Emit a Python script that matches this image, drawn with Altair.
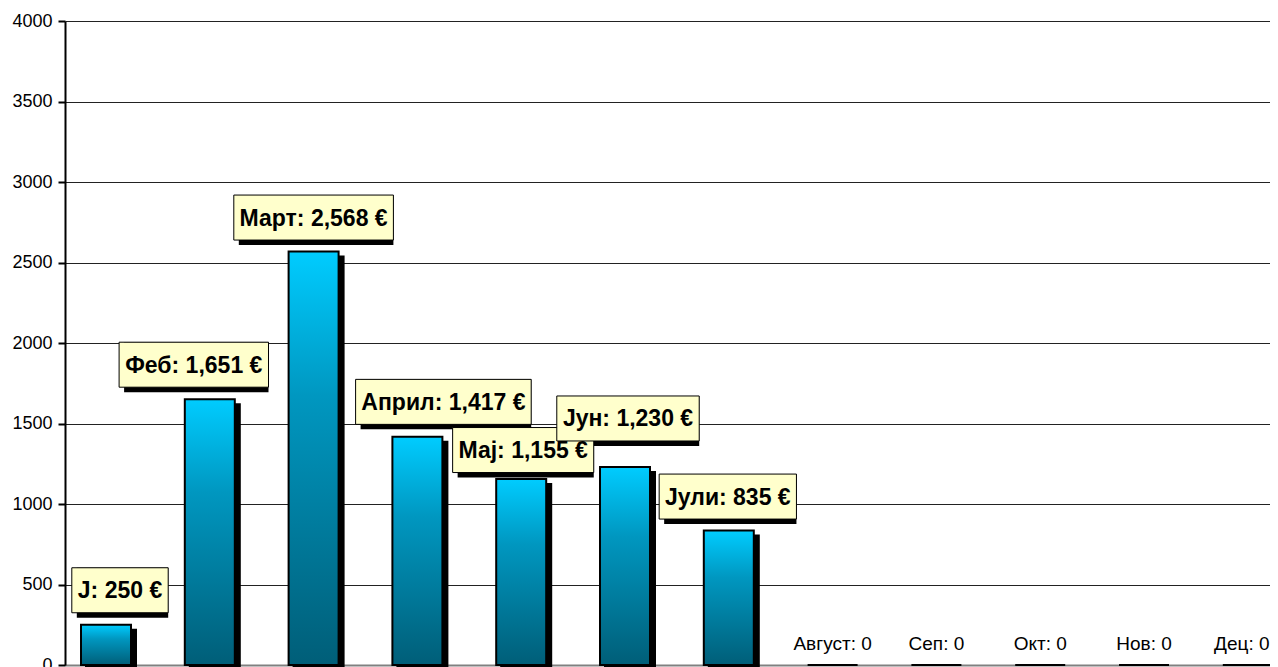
import altair as alt
import pandas as pd

# ---- data ----
months = ["J", "Феб", "Март", "Април", "Мај", "Јун", "Јули",
          "Август", "Сеп", "Окт", "Нов", "Дец"]
values = [250, 1651, 2568, 1417, 1155, 1230, 835, 0, 0, 0, 0, 0]
y_ticks = [0, 500, 1000, 1500, 2000, 2500, 3000, 3500, 4000]

# ---- layout ----
W, H = 1205, 644
PX_PER_IDX = 103.8
X0 = -0.395
X1 = X0 + W / PX_PER_IDX
Y_MAX = 4000
UNITS_PER_PX = Y_MAX / H
FONT = "Liberation Sans, Arial, sans-serif"
LABEL_SIZE = 23
BOX_H = 45
BOX_PAD = 12
# label nudges (px) where the original layout moved a label aside
label_dx_px = [14, -16, 0, 26, 2, 3, -1]
label_lift_px = [34.5, 34.5, 34, 35, 29, 48.5, 34]
zero_dx_px = [0, 0, 0, 0, -6]

# approximate Arial Bold advance widths (em/1000)
CW = {" ": 278, ",": 278, ":": 333, "€": 556, "J": 556, "Ј": 556, "Ф": 860,
      "е": 556, "б": 611, "М": 833, "а": 556, "р": 611, "т": 470, "А": 722,
      "п": 611, "и": 611, "л": 611, "ј": 278, "у": 556, "н": 611}


def text_w(s):
    return sum(CW.get(c, 556) for c in s) / 1000 * LABEL_SIZE


bars = pd.DataFrame({"idx": list(range(len(months))), "month": months,
                     "value": values})

rows = []
zrows = []
k = 0
z = 0
for i, (m, v) in enumerate(zip(months, values)):
    if v > 0:
        lab = f"{m}: {v:,} €"
        cx = i + label_dx_px[k] / PX_PER_IDX
        cy = v + label_lift_px[k] * UNITS_PER_PX
        hw = (text_w(lab) + BOX_PAD) / 2 / PX_PER_IDX
        hh = BOX_H / 2 * UNITS_PER_PX
        rows.append({"label": lab, "cx": cx, "cy": cy, "bx": cx - hw,
                     "bx2": cx + hw, "by": cy - hh, "by2": cy + hh})
        k += 1
    else:
        zrows.append({"label": f"{m}: {v}",
                      "cx": i + zero_dx_px[z] / PX_PER_IDX, "value": v})
        z += 1
labels = pd.DataFrame(rows)
zlabels = pd.DataFrame(zrows)

xscale = alt.Scale(domain=[X0, X1], nice=False, zero=False, padding=0)
yscale = alt.Scale(domain=[0, Y_MAX], nice=False, padding=0)
xaxis = alt.Axis(labels=False, ticks=False, grid=False, title=None,
                 domainColor="#808080", domainWidth=2)
yaxis = alt.Axis(values=y_ticks, format="d", grid=True, gridColor="#222222",
                 gridWidth=1, title=None, domainColor="#000000",
                 domainWidth=2, tickColor="#000000", tickWidth=2, tickSize=7,
                 labelFont=FONT, labelFontSize=18, labelColor="#000000",
                 labelPadding=6)

gradient = alt.Gradient(
    gradient="linear", x1=0, y1=0, x2=0, y2=1,
    stops=[alt.GradientStop(color="#00CCFF", offset=0),
           alt.GradientStop(color="#0097C0", offset=0.35),
           alt.GradientStop(color="#005E78", offset=1)])

base = alt.Chart(bars)
shadow = base.mark_bar(width=52, color="#000000", xOffset=5, yOffset=4).encode(
    x=alt.X("idx:Q", scale=xscale, axis=xaxis),
    y=alt.Y("value:Q", scale=yscale, axis=yaxis))
bar = base.mark_bar(width=50, fill=gradient, stroke="#000000",
                    strokeWidth=2).encode(
    x=alt.X("idx:Q", scale=xscale, axis=xaxis),
    y=alt.Y("value:Q", scale=yscale, axis=yaxis))

lbase = alt.Chart(labels)
box_shadow = lbase.mark_rect(color="#000000", xOffset=5, yOffset=5).encode(
    x=alt.X("bx:Q", scale=xscale, axis=xaxis), x2="bx2:Q",
    y=alt.Y("by:Q", scale=yscale, axis=yaxis), y2="by2:Q")
box = lbase.mark_rect(fill="#FFFFCC", stroke="#000000", strokeWidth=1).encode(
    x=alt.X("bx:Q", scale=xscale, axis=xaxis), x2="bx2:Q",
    y=alt.Y("by:Q", scale=yscale, axis=yaxis), y2="by2:Q")
btext = lbase.mark_text(font=FONT, fontSize=LABEL_SIZE, fontWeight="bold",
                        color="#000000", baseline="middle", align="center",
                        dy=1).encode(
    x=alt.X("cx:Q", scale=xscale, axis=xaxis),
    y=alt.Y("cy:Q", scale=yscale, axis=yaxis),
    text="label:N")
ztext = alt.Chart(zlabels).mark_text(font=FONT, fontSize=19, color="#000000",
                                     baseline="middle", align="center",
                                     dy=-21).encode(
    x=alt.X("cx:Q", scale=xscale, axis=xaxis),
    y=alt.Y("value:Q", scale=yscale, axis=yaxis),
    text="label:N")

chart = alt.layer(shadow, bar, box_shadow, box, btext, ztext).properties(
    width=W, height=H, autosize="none",
    padding={"left": 57, "top": 13, "right": 0, "bottom": 2},
).configure_view(stroke=None).configure(background="#FFFFFF")

chart.save("out.html", embed_options={"renderer": "svg", "actions": False})
